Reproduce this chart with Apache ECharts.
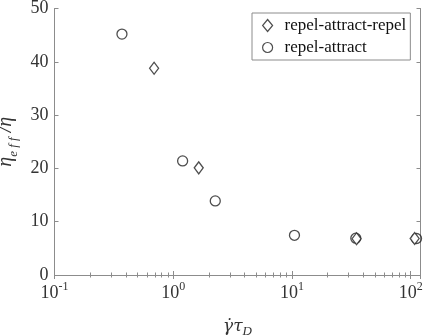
<!DOCTYPE html>
<html>
<head>
<meta charset="utf-8">
<script src="https://cdn.jsdelivr.net/npm/echarts@6/dist/echarts.min.js"></script>
<style>
  html, body { margin: 0; padding: 0; background: #fff; }
  #chart { width: 424px; height: 336px; }
</style>
</head>
<body>
<div id="chart"></div>
<script>
// data
const rarX = [0.69, 1.64, 35, 108];
const rarY = [38.8, 20.1, 6.8, 6.85];
const raX = [0.37, 1.2, 2.26, 10.5, 34.5, 112];
const raY = [45.2, 21.4, 13.9, 7.45, 6.9, 6.85];
const xExponents = [-1, 0, 1, 2];
const yTicks = [0, 10, 20, 30, 40, 50];

const serif = "Liberation Serif";
const axisGrey = "#8c8c8c";
const textCol = "#333";

const chart = echarts.init(document.getElementById("chart"), null, { renderer: "canvas" });

function pairs(xs, ys) {
  return xs.map((x, i) => [x, ys[i]]);
}

function expLabel(v) {
  const e = Math.round(Math.log10(v));
  if (xExponents.indexOf(e) < 0) return "";
  return "{b|10}{s|" + e + "}";
}

const xMin = 0.1, xMax = 121;

const option = {
  animation: false,
  backgroundColor: "#fff",
  grid: { left: 54.5, right: 3.5, top: 8.5, bottom: 61, containLabel: false, outerBoundsMode: "none" },
  legend: {
    orient: "vertical",
    left: 252,
    top: 13,
    padding: [4, 4, 4, 10],
    itemGap: 5,
    itemWidth: 10,
    itemHeight: 12,
    borderColor: axisGrey,
    borderWidth: 1,
    backgroundColor: "#fff",
    formatter: name => "{t|" + name + "}",
    textStyle: {
      rich: { t: { fontFamily: serif, fontSize: 17, color: "#111", padding: [0, 0, 0, 7] } }
    },
    data: [
      { name: "repel-attract-repel", itemStyle: { borderWidth: 1.2 } },
      { name: "repel-attract", itemStyle: { borderWidth: 1.2 } }
    ]
  },
  xAxis: [
    {
      type: "log",
      logBase: 10,
      min: xMin,
      max: xMax,
      axisLine: { lineStyle: { color: axisGrey } },
      axisTick: { inside: true, length: 4, lineStyle: { color: axisGrey } },
      minorTick: { show: true, splitNumber: 9, length: 2.5, lineStyle: { color: axisGrey } },
      splitLine: { show: false },
      axisLabel: {
        margin: 6,
        showMaxLabel: false,
        formatter: expLabel,
        rich: {
          b: { fontFamily: serif, fontSize: 18, color: textCol, verticalAlign: "bottom" },
          s: { fontFamily: serif, fontSize: 12, color: textCol, verticalAlign: "bottom", padding: [0, 0, 9, 0] }
        }
      },
      name: "{d|γ̇}{d|τ}{sub|D}",
      nameLocation: "middle",
      nameGap: 43,
      nameTextStyle: {
        rich: {
          d: { fontFamily: "DejaVu Serif", fontStyle: "italic", fontSize: 17, color: textCol, verticalAlign: "bottom" },
          sub: { fontFamily: serif, fontStyle: "italic", fontSize: 13, color: textCol, verticalAlign: "bottom", padding: [0, 0, -3, 0] }
        }
      }
    },
    {
      type: "log",
      logBase: 10,
      min: xMin,
      max: xMax,
      position: "top",
      axisLine: { lineStyle: { color: axisGrey } },
      axisTick: { inside: true, length: 4, lineStyle: { color: axisGrey } },
      minorTick: { show: true, splitNumber: 9, length: 2.5, lineStyle: { color: axisGrey } },
      splitLine: { show: false },
      axisLabel: { show: false }
    }
  ],
  yAxis: [
    {
      type: "value",
      min: yTicks[0],
      max: yTicks[yTicks.length - 1],
      interval: 10,
      axisLine: { show: true, lineStyle: { color: axisGrey } },
      axisTick: { show: true, inside: true, length: 4, lineStyle: { color: axisGrey } },
      splitLine: { show: false },
      axisLabel: { margin: 6, fontFamily: serif, fontSize: 18, color: textCol },
      name: "{e|η}{sub|e f f}{e| /η}",
      nameLocation: "middle",
      nameRotate: 90,
      nameGap: 27,
      nameTextStyle: {
        rich: {
          e: { fontFamily: serif, fontStyle: "italic", fontSize: 20, color: textCol, verticalAlign: "bottom" },
          sub: { fontFamily: serif, fontStyle: "italic", fontSize: 13, color: textCol, verticalAlign: "bottom", padding: [0, 0, -4, 0] }
        }
      }
    },
    {
      type: "value",
      min: yTicks[0],
      max: yTicks[yTicks.length - 1],
      interval: 10,
      position: "right",
      axisLine: { show: true, lineStyle: { color: axisGrey } },
      axisTick: { show: true, inside: true, length: 4, lineStyle: { color: axisGrey } },
      splitLine: { show: false },
      axisLabel: { show: false }
    }
  ],
  series: [
    {
      name: "repel-attract-repel",
      type: "scatter",
      symbol: "diamond",
      symbolSize: [9, 12],
      itemStyle: { color: "#fff", borderColor: "#222", borderWidth: 1.3 },
      data: pairs(rarX, rarY),
      z: 3
    },
    {
      name: "repel-attract",
      type: "scatter",
      symbol: "circle",
      symbolSize: 10,
      itemStyle: { color: "rgba(255,255,255,0)", borderColor: "#222", borderWidth: 1.3 },
      data: pairs(raX, raY),
      z: 2
    }
  ]
};

chart.setOption(option);
</script>
</body>
</html>
